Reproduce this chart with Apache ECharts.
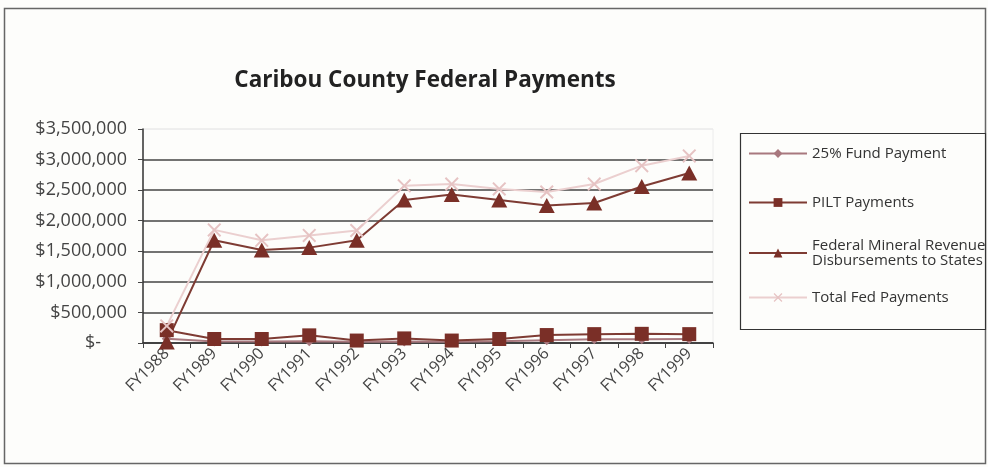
<!DOCTYPE html>
<html>
<head>
<meta charset="utf-8">
<script src="https://cdn.jsdelivr.net/npm/echarts@6/dist/echarts.min.js"></script>
<style>
  html, body { margin: 0; padding: 0; background: #fdfdfb; }
  #chart { width: 988px; height: 467px; }
</style>
</head>
<body>
<div id="chart"></div>
<script>
// Fiscal years on the category axis
var years = ['FY1988', 'FY1989', 'FY1990', 'FY1991', 'FY1992', 'FY1993',
             'FY1994', 'FY1995', 'FY1996', 'FY1997', 'FY1998', 'FY1999'];

// Payment series, in dollars
var fundPayment = [70000, 25000, 25000, 30000, 20000, 25000, 20000, 30000, 45000, 60000, 60000, 65000];
var piltPayments = [210000, 65000, 65000, 125000, 40000, 75000, 40000, 65000, 130000, 145000, 150000, 145000];
var mineralDisbursements = [15000, 1680000, 1520000, 1560000, 1680000, 2340000, 2430000, 2340000, 2250000, 2290000, 2560000, 2780000];
var totalFedPayments = [280000, 1850000, 1680000, 1760000, 1840000, 2570000, 2600000, 2520000, 2470000, 2600000, 2900000, 3060000];

var seriesNames = ['25% Fund Payment', 'PILT Payments',
                   'Federal Mineral Revenue\nDisbursements to States', 'Total Fed Payments'];

var yMin = 0, yMax = 3500000, yStep = 500000;

var font = '"Open Sans", Lato, sans-serif';
var xShape = 'path://M0,1 L1,0 L5,4 L9,0 L10,1 L6,5 L10,9 L9,10 L5,6 L1,10 L0,9 L4,5 Z';

function money(v) {
  if (v === 0) return '{z|$-}';
  return '$' + v.toLocaleString('en-US');
}

function legendAt(name, top) {
  return {
    data: [name],
    orient: 'vertical',
    left: 748,
    top: top,
    padding: 0,
    itemWidth: 58,
    itemHeight: 11,
    textStyle: { fontFamily: font, fontSize: 15, color: '#333', lineHeight: 15 }
  };
}

var chart = echarts.init(document.getElementById('chart'), null, { renderer: 'canvas' });

chart.setOption({
  backgroundColor: '#fdfdfb',
  animation: false,
  title: {
    text: 'Caribou County Federal Payments',
    left: 420,
    top: 64,
    textAlign: 'center',
    textStyle: { fontFamily: font, fontSize: 22.5, fontWeight: 'bold', color: '#222' }
  },
  graphic: [
    { type: 'rect', shape: { x: 4.5, y: 8.5, width: 981, height: 455 },
      style: { fill: 'none', stroke: '#666', lineWidth: 1.5 }, z: -1 },
    { type: 'rect', shape: { x: 740.5, y: 133.5, width: 245, height: 196 },
      style: { fill: '#fdfdfb', stroke: '#333', lineWidth: 1.2 }, z: 0 }
  ],
  legend: [
    legendAt(seriesNames[0], 146),
    legendAt(seriesNames[1], 195),
    legendAt(seriesNames[2], 238),
    legendAt(seriesNames[3], 290)
  ],
  grid: {
    left: 143, right: 275, top: 129, bottom: 124,
    show: true, borderColor: '#ececec', borderWidth: 1, backgroundColor: 'transparent'
  },
  xAxis: {
    type: 'category',
    data: years,
    boundaryGap: true,
    axisLine: { lineStyle: { color: '#333', width: 1.5 } },
    axisTick: { show: true, interval: 0, length: 5, lineStyle: { color: '#444' } },
    axisLabel: { interval: 0, rotate: 45, margin: 8, fontFamily: font, fontSize: 16, color: '#444' },
    splitLine: { show: false }
  },
  yAxis: {
    type: 'value',
    min: yMin, max: yMax, interval: yStep,
    axisLine: { show: true, lineStyle: { color: '#333', width: 1.5 } },
    axisTick: { show: true, length: 5, lineStyle: { color: '#444' } },
    axisLabel: {
      formatter: money, margin: 16, fontFamily: font, fontSize: 18, color: '#444',
      rich: { z: { fontFamily: font, fontSize: 18, color: '#444', padding: [0, 26, 0, 0] } }
    },
    splitLine: {
      show: true,
      lineStyle: { color: ['#444', '#444', '#444', '#444', '#444', '#444', '#444', '#ececec'], width: 1.5 }
    }
  },
  series: [
    {
      name: seriesNames[0], type: 'line', data: fundPayment,
      symbol: 'diamond', symbolSize: 10,
      lineStyle: { color: '#a8787e', width: 2 },
      itemStyle: { color: '#a8787e' }
    },
    {
      name: seriesNames[1], type: 'line', data: piltPayments,
      symbol: 'rect', symbolSize: 14,
      lineStyle: { color: '#7e3b33', width: 2 },
      itemStyle: { color: '#7a2f27' }
    },
    {
      name: seriesNames[2], type: 'line', data: mineralDisbursements,
      symbol: 'triangle', symbolSize: [16, 15],
      lineStyle: { color: '#7e3b33', width: 2 },
      itemStyle: { color: '#7a2f27' }
    },
    {
      name: seriesNames[3], type: 'line', data: totalFedPayments,
      symbol: xShape, symbolSize: 14,
      lineStyle: { color: '#ebcfcf', width: 2 },
      itemStyle: { color: '#e6c3c3' }
    }
  ]
});
</script>
</body>
</html>
